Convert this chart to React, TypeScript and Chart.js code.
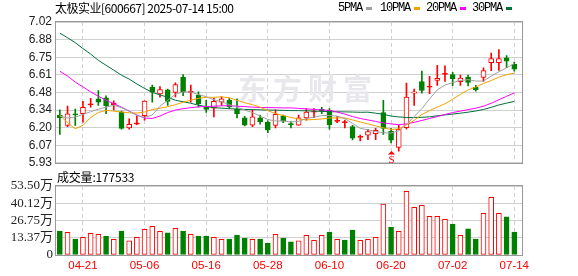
import React, { useEffect, useRef } from 'react';
import { Chart, registerables } from 'chart.js';

Chart.register(...registerables);

// ---------- data ----------
const stockName = '太极实业';
const stockCode = '600667';
const stamp = '2025-07-14 15:00';

const dates = [
  '04-16', '04-17', '04-18', '04-21', '04-22', '04-23', '04-24', '04-25', '04-28', '04-29',
  '04-30', '05-06', '05-07', '05-08', '05-09', '05-12', '05-13', '05-14', '05-15', '05-16',
  '05-19', '05-20', '05-21', '05-22', '05-23', '05-26', '05-27', '05-28', '05-29', '05-30',
  '06-03', '06-04', '06-05', '06-06', '06-09', '06-10', '06-11', '06-12', '06-13', '06-16',
  '06-17', '06-18', '06-19', '06-20', '06-23', '06-24', '06-25', '06-26', '06-27', '06-30',
  '07-01', '07-02', '07-03', '07-04', '07-07', '07-08', '07-09', '07-10', '07-11', '07-14',
];

const openP = [
  6.30, 6.22, 6.305, 6.31, 6.378, 6.425, 6.433, 6.38, 6.324, 6.20,
  6.23, 6.294, 6.515, 6.464, 6.494, 6.475, 6.591, 6.475, 6.455, 6.367,
  6.353, 6.40, 6.413, 6.344, 6.278, 6.222, 6.278, 6.246, 6.22, 6.293,
  6.23, 6.222, 6.278, 6.322, 6.344, 6.336, 6.25, 6.24, 6.21, 6.126,
  6.143, 6.155, 6.319, 6.174, 6.05, 6.202, 6.47, 6.558, 6.515, 6.567,
  6.615, 6.612, 6.559, 6.593, 6.515, 6.591, 6.705, 6.705, 6.742, 6.692,
];
const highP = [
  6.34, 6.37, 6.345, 6.405, 6.43, 6.49, 6.448, 6.41, 6.33, 6.27,
  6.295, 6.41, 6.532, 6.52, 6.50, 6.55, 6.612, 6.532, 6.48, 6.413,
  6.43, 6.44, 6.43, 6.425, 6.29, 6.34, 6.30, 6.255, 6.34, 6.30,
  6.25, 6.30, 6.35, 6.35, 6.36, 6.35, 6.29, 6.26, 6.22, 6.145,
  6.19, 6.197, 6.413, 6.197, 6.22, 6.547, 6.50, 6.641, 6.60, 6.685,
  6.68, 6.63, 6.61, 6.61, 6.53, 6.665, 6.78, 6.807, 6.76, 6.71,
];
const lowP = [
  6.15, 6.21, 6.22, 6.245, 6.36, 6.375, 6.31, 6.34, 6.19, 6.19,
  6.225, 6.26, 6.40, 6.438, 6.374, 6.44, 6.45, 6.40, 6.36, 6.32,
  6.286, 6.375, 6.35, 6.278, 6.215, 6.21, 6.23, 6.163, 6.20, 6.24,
  6.20, 6.22, 6.26, 6.28, 6.31, 6.19, 6.24, 6.20, 6.108, 6.10,
  6.11, 6.11, 6.15, 6.083, 6.02, 6.19, 6.374, 6.47, 6.465, 6.53,
  6.56, 6.527, 6.53, 6.525, 6.485, 6.56, 6.643, 6.645, 6.667, 6.64,
];
const closeP = [
  6.28, 6.31, 6.30, 6.36, 6.386, 6.40, 6.372, 6.39, 6.197, 6.227,
  6.235, 6.408, 6.477, 6.496, 6.405, 6.535, 6.477, 6.48, 6.387, 6.344,
  6.405, 6.425, 6.362, 6.311, 6.222, 6.286, 6.248, 6.184, 6.306, 6.252,
  6.225, 6.278, 6.322, 6.327, 6.33, 6.224, 6.255, 6.245, 6.121, 6.13,
  6.172, 6.182, 6.197, 6.105, 6.19, 6.438, 6.48, 6.49, 6.52, 6.583,
  6.62, 6.582, 6.585, 6.553, 6.497, 6.643, 6.736, 6.737, 6.717, 6.654,
];

const volume = [
  186000, 176000, 124000, 137000, 168000, 160000, 147000, 122000, 186000, 109000,
  137000, 199000, 222000, 183000, 171000, 207000, 186000, 160000, 147000, 147000,
  137000, 122000, 124000, 155000, 132000, 122000, 124000, 93000, 160000, 132000,
  103000, 109000, 153000, 114000, 153000, 178000, 122000, 116000, 194000, 114000,
  122000, 137000, 395000, 217000, 184000, 494000, 370000, 385000, 300000, 300000,
  277000, 240000, 153000, 202000, 124000, 323000, 447000, 323000, 295000, 177533,
];

const ma5 = [
  6.291, 6.277, 6.284, 6.304, 6.326, 6.345, 6.361, 6.376, 6.357, 6.330,
  6.296, 6.281, 6.300, 6.368, 6.414, 6.460, 6.479, 6.479, 6.458, 6.442,
  6.418, 6.403, 6.380, 6.361, 6.338, 6.319, 6.292, 6.265, 6.254, 6.254,
  6.246, 6.250, 6.273, 6.283, 6.296, 6.296, 6.292, 6.273, 6.235, 6.197,
  6.185, 6.172, 6.163, 6.160, 6.178, 6.227, 6.288, 6.349, 6.425, 6.494,
  6.532, 6.551, 6.567, 6.574, 6.563, 6.563, 6.601, 6.635, 6.666, 6.698,
];
const ma10 = [
  6.300, 6.239, 6.193, 6.220, 6.281, 6.319, 6.336, 6.330, 6.323, 6.317,
  6.315, 6.323, 6.342, 6.353, 6.364, 6.380, 6.399, 6.414, 6.429, 6.437,
  6.437, 6.441, 6.433, 6.414, 6.395, 6.380, 6.361, 6.334, 6.311, 6.296,
  6.281, 6.269, 6.262, 6.265, 6.269, 6.277, 6.278, 6.278, 6.262, 6.246,
  6.231, 6.216, 6.201, 6.189, 6.192, 6.224, 6.258, 6.304, 6.334, 6.361,
  6.387, 6.422, 6.460, 6.494, 6.517, 6.544, 6.567, 6.593, 6.612, 6.624,
];
const ma20 = [
  6.639, 6.601, 6.555, 6.517, 6.479, 6.445, 6.414, 6.387, 6.361, 6.330,
  6.300, 6.277, 6.273, 6.292, 6.319, 6.338, 6.349, 6.357, 6.363, 6.366,
  6.368, 6.371, 6.372, 6.368, 6.365, 6.361, 6.358, 6.357, 6.357, 6.355,
  6.355, 6.351, 6.347, 6.343, 6.339, 6.336, 6.323, 6.307, 6.288, 6.273,
  6.262, 6.250, 6.239, 6.231, 6.225, 6.231, 6.243, 6.258, 6.273, 6.288,
  6.304, 6.319, 6.330, 6.342, 6.353, 6.368, 6.391, 6.418, 6.445, 6.471,
];
const ma30 = [
  6.934, 6.898, 6.860, 6.814, 6.772, 6.723, 6.685, 6.647, 6.608, 6.578,
  6.540, 6.506, 6.475, 6.456, 6.437, 6.414, 6.403, 6.391, 6.376, 6.365,
  6.357, 6.353, 6.349, 6.346, 6.343, 6.342, 6.340, 6.338, 6.338, 6.336,
  6.334, 6.334, 6.332, 6.330, 6.328, 6.326, 6.325, 6.324, 6.323, 6.321,
  6.322, 6.314, 6.305, 6.292, 6.285, 6.281, 6.281, 6.282, 6.286, 6.294,
  6.301, 6.307, 6.314, 6.322, 6.331, 6.343, 6.359, 6.378, 6.392, 6.405,
];

const priceTickLabels = ['5.93', '6.07', '6.20', '6.34', '6.48', '6.61', '6.75', '6.88', '7.02'];
const priceMin = 5.93;
const priceMax = 7.02;
const volTickLabels = ['0', '13.37万', '26.75万', '40.12万', '53.50万'];
const volMax = 535000;
const dateTickLabels = ['04-21', '05-06', '05-16', '05-28', '06-10', '06-20', '07-02', '07-14'];
const signalDate = '06-20';
const signalText = 'S';
const maNames = ['5PMA', '10PMA', '20PMA', '30PMA'];

// ---------- styles ----------
const RED = '#ff0000';
const GREEN = '#008000';
const GRID = '#d0d0d0';
const BOX = '#999999';
const MA_COLORS = ['#a0a0a0', '#f5a000', '#ff00ff', '#00703c'];
const SANS = '"Liberation Sans", Arial, sans-serif';
const SERIF = '"Liberation Serif", "Noto Sans CJK SC", serif';
const CJK = '"Noto Sans CJK SC", sans-serif';

const N = dates.length;
const idx = dates.map((_, i) => i);
const tickIdx = dateTickLabels.map((d) => dates.indexOf(d));
const candleUp = idx.map((i) => closeP[i] >= openP[i]);
const volUp = idx.map((i) => (i === 0 ? closeP[0] >= openP[0] : closeP[i] >= closeP[i - 1]));

const boxPlugin = {
  id: 'box',
  afterDraw(chart: any) {
    const { ctx, chartArea: a } = chart;
    ctx.save();
    ctx.strokeStyle = BOX;
    ctx.lineWidth = 1;
    ctx.strokeRect(Math.round(a.left) - 0.5, Math.round(a.top) - 0.5, Math.round(a.right - a.left) + 1, Math.round(a.bottom - a.top) + 1);
    ctx.restore();
  },
};

const watermarkPlugin = {
  id: 'watermark',
  beforeDatasetsDraw(chart: any) {
    const { ctx } = chart;
    ctx.save();
    ctx.fillStyle = '#e8e8ec';
    ctx.font = `bold 29px ${CJK}`;
    ctx.textBaseline = 'middle';
    const txt = '东方财富';
    for (let k = 0; k < txt.length; k++) {
      ctx.fillText(txt[k], 238 + k * 35, 89);
    }
    ctx.restore();
  },
};

const signalPlugin = {
  id: 'signal',
  afterDatasetsDraw(chart: any) {
    const i = dates.indexOf(signalDate);
    const xs = chart.scales.x;
    const ys = chart.scales.y;
    const x = Math.round(xs.getPixelForValue(i)) + 0.5;
    const yTop = ys.getPixelForValue(lowP[i]) + 8;
    const { ctx } = chart;
    ctx.save();
    ctx.fillStyle = RED;
    ctx.beginPath();
    ctx.moveTo(x, yTop);
    ctx.lineTo(x - 3.5, yTop + 3.5);
    ctx.lineTo(x + 3.5, yTop + 3.5);
    ctx.closePath();
    ctx.fill();
    ctx.font = `11px ${SERIF}`;
    ctx.textAlign = 'center';
    ctx.textBaseline = 'top';
    ctx.fillText(signalText, x, yTop + 3.5);
    ctx.restore();
  },
};

function xScale(showLabels: boolean) {
  return {
    type: 'linear',
    min: -0.5,
    max: N,
    offset: false,
    afterBuildTicks: (s: any) => {
      s.ticks = tickIdx.map((v) => ({ value: v }));
    },
    afterFit: (s: any) => {
      s.height = showLabels ? 21 : 0;
    },
    ticks: {
      display: showLabels,
      autoSkip: false,
      maxRotation: 0,
      padding: 4,
      color: RED,
      font: { family: SANS, size: 11.5 },
      callback: (v: any) => dates[Math.round(Number(v))],
    },
    grid: { color: GRID, drawTicks: false, lineWidth: 1, offset: false },
    border: { display: false, dash: [4, 3] },
  };
}

function priceConfig(): any {
  const lineDs = [ma5, ma10, ma20, ma30].map((arr, k) => ({
    type: 'line',
    data: arr.map((v, i) => ({ x: i, y: v })),
    borderColor: MA_COLORS[k],
    borderWidth: 1,
    pointRadius: 0,
    tension: 0,
    fill: false,
    order: 1,
  }));
  return {
    type: 'bar',
    data: {
      datasets: [
        ...lineDs,
        {
          type: 'bar',
          data: idx.map((i) => ({ x: i, y: [openP[i], closeP[i]] })),
          backgroundColor: idx.map((i) =>
            candleUp[i] ? (Math.abs(closeP[i] - openP[i]) < 0.01 ? RED : '#ffffff') : GREEN
          ),
          borderColor: idx.map((i) => (candleUp[i] ? RED : GREEN)),
          borderWidth: 1,
          borderSkipped: false,
          barThickness: 5,
          minBarLength: 1.2,
          grouped: false,
          order: 2,
        },
        {
          type: 'bar',
          data: idx.map((i) => ({ x: i, y: [lowP[i], highP[i]] })),
          backgroundColor: idx.map((i) => (candleUp[i] ? RED : GREEN)),
          borderWidth: 0,
          barThickness: 1,
          grouped: false,
          order: 3,
        },
      ],
    },
    options: {
      responsive: false,
      maintainAspectRatio: false,
      animation: false,
      events: [],
      layout: { padding: { left: 0, right: 56, top: 22, bottom: 9 } },
      plugins: { legend: { display: false }, tooltip: { enabled: false }, title: { display: false } },
      scales: {
        x: xScale(false),
        y: {
          type: 'linear',
          position: 'left',
          min: priceMin,
          max: priceMax,
          afterBuildTicks: (s: any) => {
            const n = priceTickLabels.length - 1;
            s.ticks = priceTickLabels.map((_, k) => ({ value: priceMin + (k * (priceMax - priceMin)) / n }));
          },
          afterFit: (s: any) => {
            s.width = 56;
          },
          ticks: {
            autoSkip: false,
            padding: 4,
            color: '#222',
            font: { family: SANS, size: 12 },
            callback: (_v: any, i: number) => priceTickLabels[i],
          },
          grid: { color: GRID, drawTicks: false },
          border: { display: false },
        },
      },
    },
    plugins: [watermarkPlugin, signalPlugin, boxPlugin],
  };
}

function volConfig(): any {
  return {
    type: 'bar',
    data: {
      datasets: [
        {
          data: idx.map((i) => ({ x: i, y: volume[i] })),
          backgroundColor: idx.map((i) => (volUp[i] ? '#ffffff' : GREEN)),
          borderColor: idx.map((i) => (volUp[i] ? RED : GREEN)),
          borderWidth: 1,
          borderSkipped: false,
          barThickness: 5,
        },
      ],
    },
    options: {
      responsive: false,
      maintainAspectRatio: false,
      animation: false,
      events: [],
      layout: { padding: { left: 0, right: 56, top: 16, bottom: 0 } },
      plugins: { legend: { display: false }, tooltip: { enabled: false } },
      scales: {
        x: xScale(true),
        y: {
          type: 'linear',
          position: 'left',
          min: 0,
          max: volMax,
          afterBuildTicks: (s: any) => {
            const n = volTickLabels.length - 1;
            s.ticks = volTickLabels.map((_, k) => ({ value: (k * volMax) / n }));
          },
          afterFit: (s: any) => {
            s.width = 56;
          },
          ticks: {
            autoSkip: false,
            padding: 3,
            color: '#222',
            font: { family: SERIF, size: 13 },
            callback: (_v: any, i: number) => volTickLabels[i],
          },
          grid: { color: GRID, drawTicks: false },
          border: { display: false },
        },
      },
    },
    plugins: [boxPlugin],
  };
}

export default function App() {
  const priceRef = useRef<HTMLCanvasElement>(null);
  const volRef = useRef<HTMLCanvasElement>(null);

  useEffect(() => {
    const c1 = new Chart(priceRef.current as HTMLCanvasElement, priceConfig());
    const c2 = new Chart(volRef.current as HTMLCanvasElement, volConfig());
    return () => {
      c1.destroy();
      c2.destroy();
    };
  }, []);

  const legendLeft = [338, 380, 426, 472];

  return (
    <div
      style={{
        position: 'absolute',
        left: 0,
        top: 0,
        width: 578,
        height: 276,
        background: '#ffffff',
        overflow: 'hidden',
      }}
    >
      <canvas ref={priceRef} width={578} height={174} style={{ position: 'absolute', left: 0, top: 0 }} />
      <canvas ref={volRef} width={578} height={106} style={{ position: 'absolute', left: 0, top: 170 }} />
      <div
        style={{
          position: 'absolute',
          left: 55,
          top: 2,
          fontFamily: CJK,
          fontSize: 12,
          lineHeight: '12px',
          letterSpacing: '-0.5px',
          color: '#000',
          whiteSpace: 'nowrap',
        }}
      >
        {`${stockName}[${stockCode}] ${stamp}`}
      </div>
      {maNames.map((name, k) => (
        <div
          key={name}
          style={{
            position: 'absolute',
            left: legendLeft[k],
            top: 2,
            display: 'flex',
            alignItems: 'center',
            height: 13,
            whiteSpace: 'nowrap',
          }}
        >
          <span
            style={{
              fontFamily: '"Liberation Mono", monospace',
              fontSize: 12,
              letterSpacing: '-1.2px',
              color: '#000',
              lineHeight: '13px',
            }}
          >
            {name}
          </span>
          <span
            style={{
              display: 'inline-block',
              width: 6,
              height: 3,
              marginLeft: 4,
              background: MA_COLORS[k],
            }}
          />
        </div>
      ))}
      <div
        style={{
          position: 'absolute',
          left: 57,
          top: 170,
          fontFamily: CJK,
          fontSize: 12,
          lineHeight: '13px',
          letterSpacing: '-0.2px',
          color: '#000',
          whiteSpace: 'nowrap',
        }}
      >
        {`成交量:${volume[volume.length - 1]}`}
      </div>
    </div>
  );
}
